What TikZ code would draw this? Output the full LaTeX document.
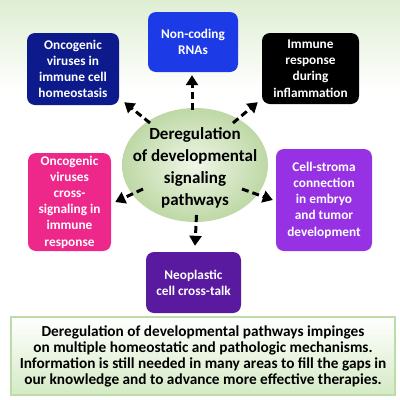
\documentclass[tikz,border=0pt]{standalone}
\usepackage{fontspec}
\setmainfont{Carlito}
\usetikzlibrary{shapes.geometric,arrows.meta,calc}
\definecolor{bgtop}{RGB}{222,238,210}
\definecolor{cnavy}{RGB}{12,26,140}
\definecolor{cblue}{RGB}{28,58,230}
\definecolor{cpink}{RGB}{238,40,138}
\definecolor{cviolet}{RGB}{150,50,228}
\definecolor{cdpurple}{RGB}{90,26,160}
\definecolor{ellin}{RGB}{240,246,232}
\definecolor{ellout}{RGB}{190,216,165}
\definecolor{botg}{RGB}{212,234,196}
\definecolor{botline}{RGB}{190,220,170}
\tikzset{
  box/.style={rounded corners=8pt, text=white, align=center, inner sep=0pt,
    font=\bfseries\fontsize{13.3}{16.2}\selectfont},
  arr/.style={line width=3pt, dash pattern=on 7pt off 4pt,
    -{Triangle[length=10pt,width=12pt]}},
}
\begin{document}
\begin{tikzpicture}[x=1pt,y=-1pt]
\fill[white] (0,0) rectangle (400,400);
\shade[top color=bgtop, bottom color=white] (0,0) rectangle (400,90);
\path[use as bounding box] (0,0) rectangle (400,400);

% ellipse
\node[ellipse, minimum width=146pt, minimum height=114pt, inner sep=0pt,
  shading=radial, inner color=ellin, outer color=ellout] (e) at (195,165) {};
\node[align=center, font=\bfseries\fontsize{17}{22}\selectfont] (et) at (195,168)
  {Deregulation\\of developmental\\signaling\\pathways};

% boxes
\node[box, fill=cnavy, minimum width=92pt, minimum height=72pt] (b1) at (73,69)
  {Oncogenic\\viruses in\\immune cell\\homeostasis};
\node[box, fill=cblue, minimum width=90pt, minimum height=60pt] (b2) at (193,42)
  {Non-coding\\RNAs};
\node[box, fill=black, minimum width=97pt, minimum height=71pt] (b3) at (310.5,68.5)
  {Immune\\response\\during\\inflammation};
\node[box, fill=cpink, minimum width=83pt, minimum height=98pt] (b4) at (69.5,202)
  {Oncogenic\\viruses\\cross-\\signaling in\\immune\\response};
\node[box, fill=cviolet, minimum width=96pt, minimum height=102pt] (b5) at (324,200)
  {Cell-stroma\\connection\\in embryo\\and tumor\\development};
\node[box, fill=cdpurple, minimum width=95pt, minimum height=61pt] (b6) at (193.5,282.5)
  {Neoplastic\\cell cross-talk};

% bottom box
\node[draw=botline, line width=1.2pt, top color=white, bottom color=botg,
  minimum width=384pt, minimum height=78pt, inner sep=0pt, align=center,
  font=\bfseries\fontsize{15.3}{16}\selectfont] (bt) at (203,356)
  {Deregulation of developmental pathways impinges\\
   on multiple homeostatic and pathologic mechanisms.\\
   Information is still needed in many areas to fill the gaps in\\
   our knowledge and to advance more effective therapies.};

% arrows
\draw[arr] ([shift={(-45,-42)}]e.center) -- ([shift={(5,-3)}]b1.south east);
\draw[arr] ([shift={(-3,-55)}]e.center) -- ([shift={(-1,3)}]b2.south);
\draw[arr] ([shift={(38,-42)}]e.center) -- ([shift={(-4,-2)}]b3.south west);
\draw[arr] ([shift={(-52,24)}]e.center) -- ([shift={(4,0)}]b4.east);
\draw[arr] ([shift={(47,24)}]e.center) -- ([shift={(-3,0)}]b5.west);
\draw[arr] ([shift={(1.5,50)}]e.center) -- ([shift={(1.5,-6)}]b6.north);
\end{tikzpicture}
\end{document}
